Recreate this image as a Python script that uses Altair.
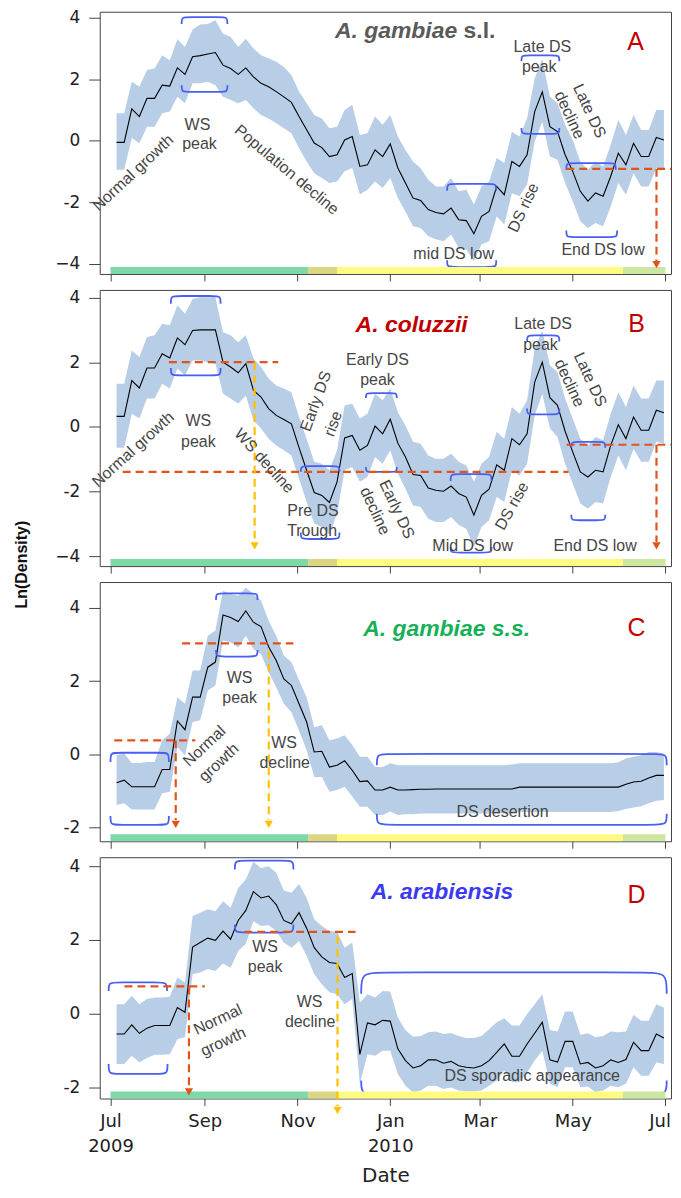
import altair as alt
import pandas as pd

# ---------------- data ----------------
ORIGIN = pd.Timestamp("2009-07-01")
FIRST_DAY = 4      # first estimate: 5 Jul 2009
STEP_DAYS = 5      # one estimate every 5 days
N_POINTS = 73

A_mean = [-0.05, -0.05, 1.04, 0.79, 1.38, 1.38, 1.81, 1.78, 2.37, 2.16,
          2.73, 2.77, 2.82, 2.87, 2.46, 2.35, 2.16, 2.37, 2.08, 1.87,
          1.76, 1.60, 1.43, 1.25, 0.79, 0.36, -0.07, -0.22, -0.51, -0.45,
          0.03, 0.14, -0.83, -0.78, -0.29, -0.51, -0.10, -0.88, -1.37, -1.86,
          -1.94, -2.23, -2.33, -2.37, -2.18, -2.56, -2.59, -3.02, -2.45, -2.29,
          -1.48, -1.75, -0.67, -0.83, -0.45, 0.95, 1.59, 0.46, 0.30, -0.45,
          -0.99, -1.64, -1.96, -1.69, -1.80, -1.15, -0.40, -0.78, -0.08, -0.51,
          -0.51, 0.11, 0.03]
A_hi = [0.90, 0.90, 1.92, 1.76, 2.30, 2.35, 2.78, 2.62, 3.30, 3.05,
        3.62, 3.78, 3.80, 3.92, 3.48, 3.38, 3.05, 3.32, 3.00, 2.78,
        2.68, 2.57, 2.40, 2.14, 1.60, 1.22, 0.84, 0.73, 0.41, 0.46,
        1.00, 1.17, 0.19, 0.25, 0.79, 0.52, 0.84, 0.14, -0.30, -0.67,
        -0.89, -1.26, -1.48, -1.48, -1.21, -1.64, -1.59, -2.07, -1.48, -1.32,
        -0.56, -0.72, 0.30, 0.14, 0.73, 2.03, 2.67, 1.43, 1.22, 0.52,
        0.03, -0.67, -0.94, -0.67, -0.83, -0.13, 0.68, 0.19, 0.84, 0.35,
        0.35, 1.00, 1.00]
A_lo = [-0.94, -0.94, 0.09, -0.08, 0.46, 0.46, 0.90, 0.95, 1.43, 1.22,
        1.87, 1.87, 1.92, 1.81, 1.43, 1.33, 1.22, 1.33, 1.06, 0.84,
        0.73, 0.57, 0.41, 0.25, -0.24, -0.67, -1.05, -1.21, -1.37, -1.32,
        -0.99, -0.88, -1.74, -1.59, -1.32, -1.53, -1.21, -1.86, -2.30, -2.77,
        -2.83, -3.10, -3.20, -3.26, -3.04, -3.47, -3.53, -3.91, -3.37, -3.26,
        -2.45, -2.72, -1.70, -1.80, -1.42, -0.02, 0.62, -0.51, -0.61, -1.37,
        -1.96, -2.61, -2.83, -2.67, -2.77, -2.13, -1.37, -1.75, -1.05, -1.48,
        -1.48, -0.89, -0.89]

B_mean = [0.33, 0.33, 1.44, 1.21, 1.83, 1.83, 2.27, 2.14, 2.76, 2.55,
          2.99, 3.01, 3.01, 3.01, 2.01, 1.86, 1.68, 1.96, 1.14, 0.93,
          0.57, 0.36, 0.23, 0.10, -0.64, -1.34, -2.03, -2.12, -2.34, -1.70,
          -0.34, -0.26, -0.72, -0.57, 0.03, -0.21, 0.24, -0.50, -0.93, -1.47,
          -1.50, -1.89, -1.96, -1.99, -1.83, -2.06, -2.17, -2.73, -2.12, -1.93,
          -1.17, -1.34, -0.36, -0.55, -0.21, 1.39, 2.01, 0.91, 0.67, -0.13,
          -0.77, -1.39, -1.55, -1.34, -1.39, -0.57, 0.07, -0.36, 0.31, -0.10,
          -0.10, 0.52, 0.44]
B_hi = [1.34, 1.34, 2.37, 2.17, 2.79, 2.84, 3.20, 3.15, 3.77, 3.51,
        3.97, 4.02, 4.02, 4.02, 2.94, 2.84, 2.63, 2.84, 2.12, 1.86,
        1.50, 1.29, 1.19, 1.08, 0.31, -0.36, -1.08, -1.14, -1.34, -0.72,
        0.67, 0.72, 0.26, 0.41, 1.03, 0.83, 1.19, 0.46, 0.05, -0.46,
        -0.52, -0.88, -0.98, -0.98, -0.83, -1.08, -1.19, -1.70, -1.14, -0.93,
        -0.15, -0.36, 0.62, 0.41, 0.83, 2.43, 2.99, 1.91, 1.70, 0.88,
        0.26, -0.36, -0.57, -0.31, -0.41, 0.41, 1.08, 0.62, 1.29, 0.88,
        0.88, 1.44, 1.44]
B_lo = [-0.64, -0.64, 0.41, 0.26, 0.88, 0.88, 1.34, 1.19, 1.81, 1.60,
        2.06, 2.06, 2.01, 1.96, 1.03, 0.88, 0.72, 0.98, 0.21, -0.05,
        -0.36, -0.57, -0.72, -0.88, -1.60, -2.32, -2.99, -3.10, -3.35, -2.68,
        -1.34, -1.24, -1.70, -1.55, -0.93, -1.14, -0.72, -1.44, -1.91, -2.43,
        -2.48, -2.84, -2.94, -2.94, -2.79, -3.04, -3.15, -3.72, -3.10, -2.89,
        -2.17, -2.32, -1.34, -1.50, -1.14, 0.36, 1.03, -0.05, -0.31, -1.14,
        -1.75, -2.37, -2.53, -2.32, -2.37, -1.55, -0.88, -1.34, -0.67, -1.08,
        -1.08, -0.46, -0.52]

C_mean = [-0.78, -0.71, -0.89, -0.89, -0.89, -0.89, -0.42, -0.42, 0.91, 0.67,
          1.56, 1.56, 2.38, 2.52, 3.81, 3.74, 3.63, 3.92, 3.61, 3.49,
          2.94, 2.56, 2.06, 1.88, 1.38, 0.88, 0.06, 0.08, -0.35, -0.30,
          -0.18, -0.44, -0.75, -0.73, -0.98, -0.98, -0.90, -0.98, -0.98, -0.97,
          -0.96, -0.96, -0.95, -0.95, -0.95, -0.95, -0.95, -0.95, -0.95, -0.95,
          -0.95, -0.95, -0.95, -0.90, -0.90, -0.90, -0.90, -0.90, -0.90, -0.90,
          -0.90, -0.90, -0.90, -0.90, -0.90, -0.90, -0.90, -0.82, -0.76, -0.74,
          -0.65, -0.58, -0.58]
C_hi = [-0.03, 0.02, -0.24, -0.24, -0.21, -0.21, 0.38, 0.56, 1.56, 1.38,
        2.29, 2.29, 3.24, 3.38, 4.47, 4.38, 4.33, 4.56, 4.38, 4.20,
        3.65, 3.24, 2.70, 2.52, 2.02, 1.56, 0.74, 0.79, 0.38, 0.43,
        0.52, 0.25, -0.07, -0.07, -0.35, -0.35, -0.25, -0.30, -0.30, -0.30,
        -0.30, -0.30, -0.30, -0.30, -0.30, -0.30, -0.30, -0.30, -0.30, -0.30,
        -0.30, -0.30, -0.28, -0.25, -0.25, -0.25, -0.25, -0.25, -0.25, -0.25,
        -0.25, -0.25, -0.25, -0.25, -0.25, -0.25, -0.22, -0.12, -0.07, -0.03,
        0.06, 0.06, 0.02]
C_lo = [-1.39, -1.34, -1.51, -1.51, -1.51, -1.51, -1.07, -1.03, 0.20, -0.03,
        0.88, 0.93, 1.74, 1.88, 3.11, 3.06, 2.92, 3.24, 2.88, 2.74,
        2.24, 1.83, 1.38, 1.15, 0.65, 0.11, -0.62, -0.62, -1.03, -0.98,
        -0.89, -1.16, -1.44, -1.44, -1.66, -1.66, -1.57, -1.66, -1.64, -1.64,
        -1.62, -1.62, -1.62, -1.62, -1.62, -1.62, -1.62, -1.62, -1.62, -1.62,
        -1.62, -1.62, -1.60, -1.58, -1.58, -1.58, -1.58, -1.58, -1.58, -1.58,
        -1.58, -1.58, -1.58, -1.58, -1.58, -1.58, -1.55, -1.50, -1.46, -1.42,
        -1.34, -1.27, -1.25]

D_mean = [-0.55, -0.55, -0.30, -0.53, -0.39, -0.32, -0.32, -0.32, 0.17, 0.04,
          1.81, 1.93, 2.05, 1.99, 2.24, 2.02, 2.53, 2.80, 3.31, 3.14,
          3.19, 2.96, 2.53, 2.44, 2.74, 2.32, 1.79, 1.54, 1.39, 1.36,
          0.98, 1.09, -1.10, -0.25, -0.30, -0.18, -0.20, -0.95, -1.27, -1.47,
          -1.41, -1.25, -1.25, -1.34, -1.29, -1.41, -1.45, -1.47, -1.41, -1.27,
          -1.05, -0.82, -1.15, -1.15, -0.82, -0.53, -0.23, -1.25, -1.31, -0.75,
          -0.75, -1.36, -1.32, -1.47, -1.41, -1.25, -1.32, -1.24, -0.77, -1.00,
          -1.00, -0.55, -0.66]
D_hi = [0.26, 0.26, 0.49, 0.26, 0.40, 0.44, 0.44, 0.46, 0.98, 0.85,
        2.65, 2.74, 2.83, 2.78, 3.05, 2.87, 3.41, 3.64, 4.12, 3.95,
        4.00, 3.82, 3.34, 3.28, 3.52, 3.14, 2.56, 2.38, 2.24, 2.23,
        1.79, 1.93, 0.30, 0.53, 0.44, 0.62, 0.60, -0.10, -0.45, -0.62,
        -0.60, -0.50, -0.48, -0.55, -0.52, -0.60, -0.66, -0.66, -0.60, -0.42,
        -0.23, -0.12, -0.32, -0.32, -0.01, 0.26, 0.53, -0.44, -0.48, 0.06,
        0.06, -0.57, -0.53, -0.64, -0.60, -0.48, -0.50, -0.48, -0.03, -0.19,
        -0.19, 0.26, 0.17]
D_lo = [-1.36, -1.36, -1.14, -1.32, -1.20, -1.11, -1.11, -1.10, -0.69, -0.63,
        1.07, 1.12, 1.21, 1.16, 1.36, 1.25, 1.70, 1.90, 2.51, 2.38,
        2.40, 2.24, 1.93, 1.79, 1.97, 1.57, 1.07, 0.80, 0.58, 0.53,
        0.26, 0.40, -1.90, -1.10, -1.14, -1.00, -1.00, -1.63, -1.95, -2.13,
        -2.08, -1.95, -1.95, -2.04, -2.00, -2.08, -2.10, -2.10, -2.08, -1.95,
        -1.81, -1.54, -1.86, -1.86, -1.59, -1.27, -1.00, -1.90, -1.99, -1.45,
        -1.45, -1.99, -1.97, -2.13, -2.08, -1.95, -1.99, -1.90, -1.45, -1.68,
        -1.68, -1.32, -1.36]

# season strip: (start day, end day, colour) counted from 1 Jul 2009
SEASONS = [(0, 130, "#7ed8a8"), (130, 149, "#dbd682"),
           (149, 337, "#fffa80"), (337, 365, "#cde6a0")]

# annotation texts: (text, day, value, angle)
A_TEXT = [("Normal growth", 14.9, -1.04, 317), ("WS", 57.2, 0.52, 0), ("peak", 58.5, -0.10, 0),
          ("Population decline", 115.9, -0.94, 40), ("mid DS low", 225.7, -3.66, 0),
          ("DS rise", 271.6, -2.17, 295), ("Late DS", 284.0, 3.05, 0), ("peak", 282.0, 2.40, 0),
          ("Late DS", 315.0, 0.97, 65), ("decline", 301.8, 0.84, 65), ("End DS low", 324.0, -3.53, 0)]
B_TEXT = [("Normal growth", 14.9, -0.70, 318), ("WS", 57.8, 0.18, 0), ("peak", 57.8, -0.46, 0),
          ("WS decline", 101.1, -1.05, 48), ("Early DS", 135.1, 0.80, 290), ("rise", 146.4, 0.10, 290),
          ("Early DS", 175.6, 2.08, 0), ("peak", 175.6, 1.45, 0),
          ("Early DS", 188.3, -2.55, 65), ("decline", 173.9, -2.60, 65),
          ("Pre DS", 133.2, -2.60, 0), ("Trough", 132.6, -3.23, 0), ("Mid DS low", 238.2, -3.69, 0),
          ("DS rise", 264.1, -2.45, 299), ("Late DS", 284.5, 3.18, 0), ("peak", 282.8, 2.55, 0),
          ("Late DS", 315.5, 1.47, 65), ("decline", 301.8, 1.36, 65), ("End DS low", 318.7, -3.69, 0)]
C_TEXT = [("WS", 84.9, 2.09, 0), ("peak", 84.9, 1.53, 0), ("Normal", 61.8, 0.22, 317),
          ("growth", 71.3, -0.23, 317), ("WS", 114.1, 0.31, 0), ("decline", 114.6, -0.25, 0),
          ("DS desertion", 257.8, -1.59, 0)]
D_TEXT = [("WS", 101.7, 1.81, 0), ("peak", 101.7, 1.27, 0), ("Normal", 70.6, -0.16, 335),
          ("growth", 74.2, -0.76, 335), ("WS", 131.0, 0.31, 0), ("decline", 131.3, -0.22, 0),
          ("DS sporadic appearance", 277.4, -1.69, 0)]

# species titles: (text, day, value, colour, italic)
A_TITLE = [("A. gambiae", 147.6, 3.33, "#5a5a5a", True), ("s.l.", 232.2, 3.33, "#5a5a5a", False)]
B_TITLE = [("A. coluzzii", 161.2, 2.94, "#c00000", True)]
C_TITLE = [("A. gambiae s.s.", 166.2, 3.24, "#17b05a", True)]
D_TITLE = [("A. arabiensis", 171.1, 3.10, "#3a3af2", True)]
LETTERS = [("A", 345.4, 2.94), ("B", 346.0, 2.94), ("C", 346.0, 3.24), ("D", 346.0, 3.01)]

# brackets: (day from, day to, value of flat part, value of arm ends, corner days)
A_BR = [(46.8, 76.9, 4.02, 3.80, 4), (46.8, 76.9, 1.59, 1.81, 4),
        (270.3, 295.2, 2.78, 2.59, 4), (270.3, 295.2, 0.23, 0.42, 4),
        (299.8, 332.3, -0.72, -0.94, 4), (299.8, 333.2, -3.13, -2.91, 4),
        (221.4, 253.7, -1.40, -1.62, 4), (221.4, 253.7, -4.10, -3.88, 4)]
B_BR = [(39.7, 72.4, 4.06, 3.82, 4), (39.7, 72.4, 1.60, 1.83, 4),
        (125.2, 150.6, -1.21, -1.39, 4), (125.2, 150.6, -3.47, -3.27, 4),
        (168.0, 188.3, 1.05, 0.90, 3.5), (168.0, 188.3, -1.39, -1.24, 3.5),
        (223.7, 250.6, -1.46, -1.67, 4), (223.7, 250.6, -3.89, -3.72, 4),
        (274.0, 295.2, 2.84, 2.65, 4), (274.0, 295.2, 0.39, 0.57, 4),
        (303.1, 325.4, -0.46, -0.64, 4), (303.1, 325.4, -2.89, -2.72, 4)]
C_BR = [(0.0, 38.4, 0.04, -0.21, 4), (0.0, 38.4, -1.93, -1.69, 4),
        (69.4, 96.7, 4.40, 4.22, 4), (69.4, 96.7, 2.67, 2.85, 4),
        (175.2, 365.8, 0.01, -0.30, 7), (175.2, 365.8, -1.93, -1.63, 7)]
D_BR = [(-1.2, 37.2, 0.85, 0.62, 5), (-1.2, 37.5, -1.63, -1.36, 5),
        (81.8, 120.3, 4.15, 3.91, 5), (81.8, 120.3, 2.20, 2.42, 5),
        (164.9, 365.8, 1.12, 0.54, 12), (164.9, 365.8, -2.22, -1.81, 12)]

RED = "#e0541c"
YEL = "#ffc000"
# dashed guides: (day1, day2, value1, value2, colour)
A_DASH = [(299.8, 368.6, -0.91, -0.91, RED), (359.1, 359.1, -0.91, -3.92, RED)]
B_DASH = [(38.4, 110.3, 2.01, 2.01, RED), (8.0, 301.2, -1.39, -1.39, RED),
          (300.0, 368.6, -0.55, -0.55, RED), (359.1, 359.1, -0.55, -3.56, RED),
          (94.8, 94.8, 2.01, -3.56, YEL)]
C_DASH = [(2.5, 55.8, 0.38, 0.38, RED), (42.9, 42.9, 0.38, -1.80, RED),
          (47.1, 120.3, 3.03, 3.03, RED), (104.1, 104.1, 2.83, -1.80, YEL)]
D_DASH = [(9.2, 62.0, 0.74, 0.74, RED), (51.6, 51.6, 0.74, -2.00, RED),
          (88.0, 161.2, 2.22, 2.22, RED), (149.3, 149.3, 2.11, -2.50, YEL)]
# arrow heads: (day, value, colour)
A_ARR = [(359.1, -4.02, RED)]
B_ARR = [(359.1, -3.68, RED), (94.8, -3.68, YEL)]
C_ARR = [(42.9, -1.92, RED), (104.1, -1.92, YEL)]
D_ARR = [(51.6, -2.12, RED), (149.3, -2.62, YEL)]

# ---------------- styling ----------------
BAND = "#b8cee6"
BLUE = "#4a5ff2"
TXT = "#454545"
FONT = "Liberation Sans"
AXF = "DejaVu Sans"
W = 573


def ms(d):
    return float((ORIGIN + pd.Timedelta(days=float(d))).value // 10**6)


XDOM = [ms(-7.08), ms(368.65)]
XT = [ms(d) for d in (0, 62, 123, 184, 243, 304, 365)]
LABEL_EXPR = ("utcmonth(datum.value) == 0 || (utcyear(datum.value) == 2009 && utcmonth(datum.value) == 6)"
              " ? [utcFormat(datum.value, '%b'), utcFormat(datum.value, '%Y')] : utcFormat(datum.value, '%b')")


def build(mean, lo, hi, h, ydom, yticks, texts, titles, letter, brackets, dashes, arrows,
          bottom=False, ytitle=False):
    xs = alt.Scale(type="utc", domain=XDOM, nice=False)
    ys = alt.Scale(domain=ydom, nice=False, zero=False)
    if bottom:
        xa = alt.Axis(values=XT, grid=False, domain=False, tickSize=7, tickColor="#444",
                      labelExpr=LABEL_EXPR, labelFont=AXF, labelFontSize=18, labelColor="#222",
                      labelPadding=7, labelLineHeight=25, labelBaseline="top",
                      labelFlush=8, labelFlushOffset=5,
                      title="Date", titleFont=AXF, titleFontSize=20, titleFontWeight="normal",
                      titleColor="#222", titlePadding=10)
    else:
        xa = alt.Axis(values=XT, labels=False, grid=False, domain=False, tickSize=7,
                      tickColor="#444", title=None)
    ykw = dict(values=yticks, grid=False, domain=False, tickSize=11, tickColor="#444",
               labelFont=AXF, labelFontSize=17, labelColor="#222", labelPadding=9,
               labelExpr="datum.value == -2 ? '-2' : datum.label")
    if ytitle:
        ya = alt.Axis(title="Ln(Density)", titleAngle=270, titleX=-78, titleY=275,
                      titleAlign="center", titleBaseline="middle", titleFont=FONT,
                      titleFontSize=16, titleFontWeight="bold", titleColor="#111", **ykw)
    else:
        ya = alt.Axis(title=None, **ykw)

    def X(f):
        return alt.X(f"{f}:T", scale=xs, axis=xa)

    def Y(f):
        return alt.Y(f"{f}:Q", scale=ys, axis=ya)

    t = [ms(FIRST_DAY + STEP_DAYS * i) for i in range(N_POINTS)]
    df = pd.DataFrame({"t": t, "mean": mean, "lo": lo, "hi": hi})

    band = alt.Chart(df).mark_area(color=BAND, opacity=1).encode(x=X("t"), y=Y("lo"), y2="hi")
    line = alt.Chart(df).mark_line(color="black", strokeWidth=1.1).encode(x=X("t"), y=Y("mean"))

    rows = []
    for bi, (d1, d2, vf, ve, r) in enumerate(brackets):
        pts = [(d1, ve), (d1, vf), (d1 + r, vf), (d2 - r, vf), (d2, vf), (d2, ve)]
        for k, (d, v) in enumerate(pts):
            rows.append({"id": bi, "k": k, "t": ms(d), "v": v})
    brdf = pd.DataFrame(rows)
    br = alt.Chart(brdf).mark_line(interpolate="basis", color=BLUE, strokeWidth=1.8).encode(
        x=X("t"), y=Y("v"), detail="id:N", order="k:Q")

    sdf = pd.DataFrame([{"s": ms(a), "e": ms(b), "c": c} for a, b, c in SEASONS])
    strip = alt.Chart(sdf).mark_rect().encode(
        x=X("s"), x2="e", y=alt.value(h - 7), y2=alt.value(h), color=alt.Color("c:N", scale=None))

    ddf = pd.DataFrame([{"t1": ms(a), "t2": ms(b), "v1": v1, "v2": v2, "c": c}
                        for a, b, v1, v2, c in dashes])
    dash = alt.Chart(ddf).mark_rule(strokeDash=[8, 5], strokeWidth=2.2).encode(
        x=X("t1"), x2="t2", y=Y("v1"), y2="v2", color=alt.Color("c:N", scale=None))

    adf = pd.DataFrame([{"t": ms(d), "v": v, "c": c} for d, v, c in arrows])
    arr = alt.Chart(adf).mark_point(shape="triangle-down", filled=True, size=70, opacity=1).encode(
        x=X("t"), y=Y("v"), color=alt.Color("c:N", scale=None))

    tdf = pd.DataFrame([{"s": s, "t": ms(d), "v": v, "a": a} for s, d, v, a in texts])
    txt = alt.Chart(tdf).mark_text(font=FONT, fontSize=16, color=TXT, baseline="middle").encode(
        x=X("t"), y=Y("v"), text="s:N", angle=alt.Angle("a:Q", scale=None))

    layers = [band, line, br, strip, dash, arr, txt]
    for s, d, v, c, it in titles:
        tt = pd.DataFrame([{"s": s, "t": ms(d), "v": v}])
        kw = dict(font=FONT, fontSize=23, fontWeight="bold", color=c, align="left",
                  baseline="alphabetic")
        if it:
            kw["fontStyle"] = "italic"
        layers.append(alt.Chart(tt).mark_text(**kw).encode(x=X("t"), y=Y("v"), text="s:N"))
    ls, ld, lv = letter
    ldf = pd.DataFrame([{"s": ls, "t": ms(ld), "v": lv}])
    layers.append(alt.Chart(ldf).mark_text(font=FONT, fontSize=25, color="#c00000", align="center",
                                           baseline="alphabetic").encode(x=X("t"), y=Y("v"), text="s:N"))
    return alt.layer(*layers).properties(width=W, height=h)


pA = build(A_mean, A_lo, A_hi, 263, [-4.324, 4.194], [-4, -2, 0, 2, 4], A_TEXT, A_TITLE, LETTERS[0],
           A_BR, A_DASH, A_ARR)
pB = build(B_mean, B_lo, B_hi, 277, [-4.31, 4.248], [-4, -2, 0, 2, 4], B_TEXT, B_TITLE, LETTERS[1],
           B_BR, B_DASH, B_ARR, ytitle=True)
pC = build(C_mean, C_lo, C_hi, 260, [-2.381, 4.708], [-2, 0, 2, 4], C_TEXT, C_TITLE, LETTERS[2],
           C_BR, C_DASH, C_ARR)
pD = build(D_mean, D_lo, D_hi, 242, [-2.297, 4.243], [-2, 0, 2, 4], D_TEXT, D_TITLE, LETTERS[3],
           D_BR, D_DASH, D_ARR, bottom=True)

chart = alt.vconcat(pA, pB, pC, pD, spacing=16, bounds="flush").properties(
    padding={"left": 5, "top": -2, "right": 0, "bottom": 0}
).configure_view(stroke="#444", strokeWidth=1)

chart.save("out.html", embed_options={"renderer": "svg", "actions": False})
